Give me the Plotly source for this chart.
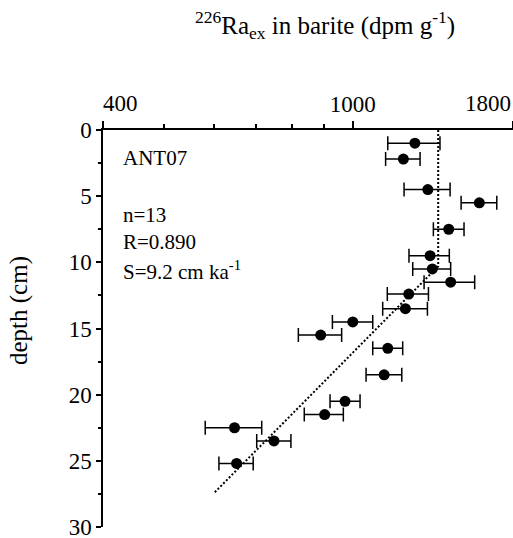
import plotly.graph_objects as go
import math

# ---- data ----
depth = [1.0, 2.2, 4.5, 5.5, 7.5, 9.5, 10.5, 11.5, 12.4, 13.5, 14.5, 15.5, 16.5, 18.5, 20.5, 21.5, 22.5, 23.5, 25.2]
ra_ex = [1256, 1204, 1317, 1591, 1422, 1328, 1339, 1432, 1228, 1213, 1000, 889, 1137, 1122, 972, 902, 648, 749, 653]
err_minus = [119, 76, 110, 103, 78, 99, 93, 133, 93, 97, 72, 70, 61, 72, 52, 65, 66, 46, 41]
err_plus = [121, 76, 112, 105, 82, 97, 93, 132, 92, 102, 76, 71, 64, 75, 55, 64, 68, 48, 41]

fit_ra = [1368, 1368, 602]
fit_depth = [0.0, 10.3, 27.4]

x_tickvals = [400, 1000, 1800]
x_ticktext = ["400", "1000", "1800"]
x_minor = [500, 600, 700, 800, 900]
y_tickvals = [0, 5, 10, 15, 20, 25, 30]

FONT = '"Liberation Serif", "Times New Roman", serif'

# plot area in pixels
W, H = 513, 538
L, R, T, B = 103, 0, 130, 11
PW, PH = W - L - R, H - T - B

def px(x):
    return (x - L) / PW

def py(y):
    return (H - B - y) / PH

fig = go.Figure()

fig.add_trace(go.Scatter(
    x=fit_ra, y=fit_depth, mode="lines",
    line=dict(color="black", width=2, dash="2px,2px"),
    hoverinfo="skip", showlegend=False))

fig.add_trace(go.Scatter(
    x=ra_ex, y=depth, mode="markers",
    marker=dict(color="black", size=11, symbol="circle"),
    error_x=dict(type="data", symmetric=False, array=err_plus, arrayminus=err_minus,
                 color="black", thickness=1.5, width=7),
    showlegend=False))

fig.update_layout(
    width=W, height=H,
    margin=dict(l=L, r=R, t=T, b=B, autoexpand=False),
    paper_bgcolor="white", plot_bgcolor="white",
    font=dict(family=FONT, color="black", size=23),
    showlegend=False,
)

fig.update_xaxes(
    type="log", side="top",
    range=[math.log10(400), math.log10(1800)],
    tickvals=x_tickvals, ticktext=["", x_ticktext[1], ""],
    ticks="outside", ticklen=7, tickwidth=1.5, tickcolor="black",
    showline=True, linecolor="black", linewidth=1.5,
    showgrid=False, zeroline=False,
    tickfont=dict(size=23, family=FONT, color="black"),
    minor=dict(tickvals=x_minor, ticks="outside", ticklen=4, tickwidth=1.5, tickcolor="black", showgrid=False),
)

fig.update_yaxes(
    range=[30.0001, 0],
    tickvals=y_tickvals,
    ticks="outside", ticklen=5, tickwidth=1.5, tickcolor="black",
    showline=True, linecolor="black", linewidth=1.5,
    showgrid=False, zeroline=False,
    ticklabeloverflow="allow",
    tickfont=dict(size=23, family=FONT, color="black"),
    minor=dict(dtick=2.5, tick0=0, ticks="outside", ticklen=3, tickwidth=1.5, tickcolor="black", showgrid=False),
)

ann = []
# end tick labels of the top axis, kept inside the axis span
ann.append(dict(text=x_ticktext[0], x=px(101), y=py(103), xref="paper", yref="paper",
                xanchor="left", yanchor="middle", showarrow=False, font=dict(size=23, family=FONT)))
ann.append(dict(text=x_ticktext[2], x=px(513), y=py(103), xref="paper", yref="paper",
                xanchor="right", yanchor="middle", showarrow=False, font=dict(size=23, family=FONT)))
# axis titles
ann.append(dict(text="<sup>226</sup>Ra<sub>ex</sub> in barite (dpm g<sup>-1</sup>)",
                x=px(325), y=py(25), xref="paper", yref="paper",
                xanchor="center", yanchor="middle", showarrow=False, font=dict(size=25, family=FONT)))
ann.append(dict(text="depth (cm)", x=px(19), y=py(311), xref="paper", yref="paper",
                xanchor="center", yanchor="middle", textangle=-90, showarrow=False, font=dict(size=25, family=FONT)))
# in-plot labels
for txt, yy in [("ANT07", 158), ("n=13", 215), ("R=0.890", 242), ("S=9.2 cm ka<sup>-1</sup>", 270)]:
    ann.append(dict(text=txt, x=px(121), y=py(yy), xref="paper", yref="paper",
                    xanchor="left", yanchor="middle", showarrow=False, font=dict(size=21, family=FONT)))

fig.update_layout(annotations=ann)

fig.write_html("out.html", config={"displayModeBar": False},
               post_script="document.body.style.margin='0';document.body.style.overflow='hidden';")
